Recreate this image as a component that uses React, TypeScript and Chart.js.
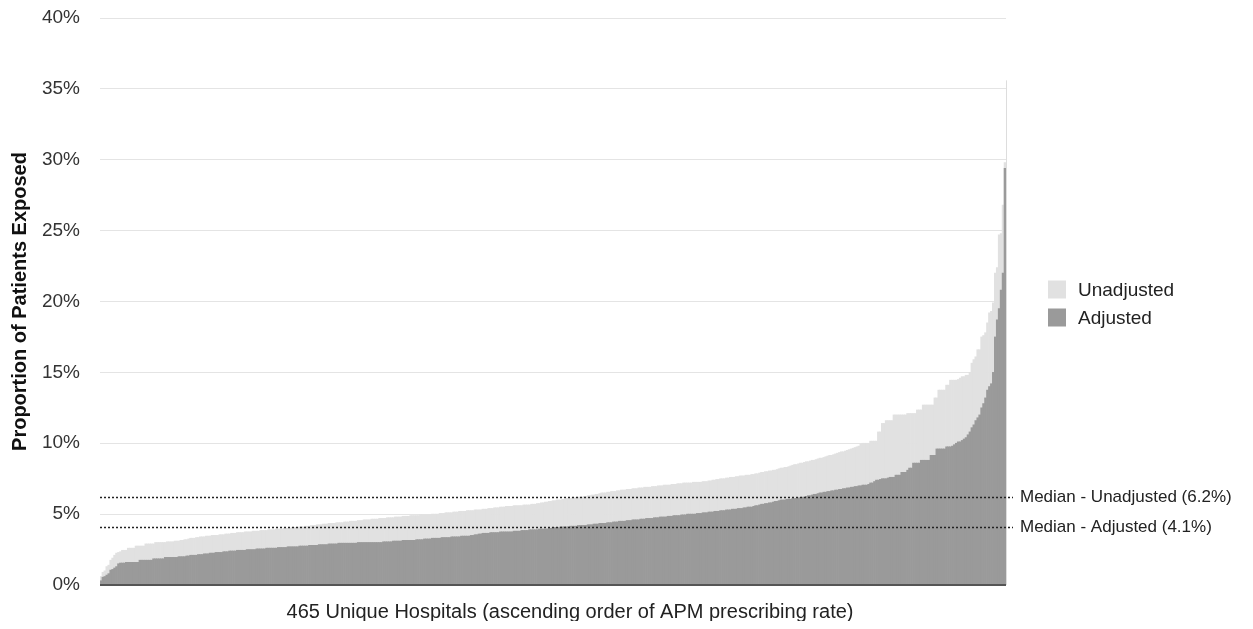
import React, { useEffect, useRef } from "react";
import { Chart, registerables } from "chart.js";

Chart.register(...registerables);

const FONT = "'Liberation Sans', Arial, Helvetica, sans-serif";

const HOSPITAL_COUNT = 465;
const hospitals: string[] = Array.from({ length: HOSPITAL_COUNT }, (_, i) => `Hospital ${i + 1}`);

// Proportion of patients exposed (%), unadjusted
const unadjusted: number[] = [
  0.6, 0.9, 1.0, 1.3, 1.4, 1.75, 1.9, 2.1, 2.25, 2.3,
  2.35, 2.45, 2.45, 2.45, 2.6, 2.6, 2.6, 2.6, 2.75, 2.75,
  2.75, 2.75, 2.75, 2.9, 2.9, 2.9, 2.9, 2.9, 3.0, 3.0,
  3.0, 3.0, 3.0, 3.0, 3.05, 3.05, 3.05, 3.05, 3.1, 3.1,
  3.1, 3.15, 3.15, 3.2, 3.2, 3.25, 3.3, 3.3, 3.3, 3.35,
  3.35, 3.4, 3.4, 3.4, 3.45, 3.45, 3.45, 3.5, 3.5, 3.5,
  3.5, 3.55, 3.55, 3.55, 3.6, 3.6, 3.6, 3.65, 3.65, 3.65,
  3.7, 3.7, 3.7, 3.7, 3.75, 3.75, 3.75, 3.75, 3.8, 3.8,
  3.8, 3.8, 3.85, 3.85, 3.85, 3.85, 3.9, 3.9, 3.9, 3.9,
  3.95, 3.95, 3.95, 3.95, 4.0, 4.0, 4.0, 4.0, 4.05, 4.05,
  4.05, 4.05, 4.1, 4.1, 4.1, 4.15, 4.15, 4.15, 4.2, 4.2,
  4.2, 4.25, 4.25, 4.25, 4.3, 4.3, 4.3, 4.35, 4.35, 4.35,
  4.35, 4.4, 4.4, 4.4, 4.4, 4.45, 4.45, 4.45, 4.5, 4.5,
  4.5, 4.5, 4.55, 4.55, 4.55, 4.6, 4.6, 4.6, 4.6, 4.65,
  4.65, 4.65, 4.65, 4.7, 4.7, 4.7, 4.7, 4.75, 4.75, 4.75,
  4.75, 4.8, 4.8, 4.8, 4.8, 4.85, 4.85, 4.85, 4.85, 4.9,
  4.9, 4.9, 4.9, 4.9, 4.95, 4.95, 4.95, 4.95, 4.95, 4.95,
  5.0, 5.0, 5.0, 5.0, 5.05, 5.05, 5.05, 5.1, 5.1, 5.1,
  5.1, 5.15, 5.15, 5.15, 5.2, 5.2, 5.2, 5.2, 5.25, 5.25,
  5.25, 5.25, 5.3, 5.3, 5.3, 5.3, 5.35, 5.35, 5.35, 5.4,
  5.4, 5.4, 5.45, 5.45, 5.45, 5.5, 5.5, 5.5, 5.55, 5.55,
  5.55, 5.55, 5.6, 5.6, 5.6, 5.6, 5.6, 5.65, 5.65, 5.65,
  5.65, 5.7, 5.7, 5.7, 5.75, 5.75, 5.8, 5.8, 5.85, 5.85,
  5.9, 5.9, 5.95, 5.95, 6.0, 6.0, 6.0, 6.05, 6.05, 6.1,
  6.1, 6.1, 6.15, 6.15, 6.15, 6.2, 6.2, 6.2, 6.25, 6.25,
  6.3, 6.3, 6.35, 6.35, 6.4, 6.4, 6.45, 6.5, 6.5, 6.5,
  6.55, 6.55, 6.6, 6.6, 6.6, 6.65, 6.65, 6.7, 6.7, 6.7,
  6.75, 6.75, 6.75, 6.8, 6.8, 6.8, 6.85, 6.85, 6.85, 6.9,
  6.9, 6.9, 6.9, 6.95, 6.95, 6.95, 7.0, 7.0, 7.0, 7.05,
  7.05, 7.05, 7.05, 7.1, 7.1, 7.1, 7.15, 7.15, 7.15, 7.2,
  7.2, 7.2, 7.2, 7.2, 7.25, 7.25, 7.25, 7.25, 7.25, 7.3,
  7.3, 7.3, 7.35, 7.35, 7.4, 7.4, 7.45, 7.45, 7.5, 7.5,
  7.5, 7.55, 7.55, 7.6, 7.6, 7.6, 7.65, 7.65, 7.7, 7.7,
  7.7, 7.75, 7.75, 7.75, 7.8, 7.8, 7.85, 7.85, 7.9, 7.95,
  7.95, 8.0, 8.0, 8.05, 8.05, 8.1, 8.1, 8.15, 8.2, 8.25,
  8.25, 8.3, 8.3, 8.35, 8.4, 8.45, 8.5, 8.5, 8.55, 8.6,
  8.6, 8.65, 8.7, 8.7, 8.75, 8.8, 8.8, 8.85, 8.9, 8.95,
  8.95, 9.0, 9.05, 9.1, 9.15, 9.15, 9.2, 9.25, 9.3, 9.35,
  9.4, 9.4, 9.45, 9.5, 9.55, 9.6, 9.65, 9.7, 9.75, 9.8,
  9.95, 10.0, 10.0, 10.0, 10.0, 10.15, 10.15, 10.15, 10.15, 10.8,
  10.8, 11.4, 11.4, 11.6, 11.6, 11.6, 11.6, 12.0, 12.0, 12.0,
  12.0, 12.0, 12.0, 12.0, 12.1, 12.1, 12.1, 12.1, 12.1, 12.35,
  12.35, 12.35, 12.7, 12.7, 12.7, 12.7, 12.7, 12.7, 13.2, 13.2,
  13.75, 13.75, 13.75, 13.75, 14.1, 14.1, 14.45, 14.45, 14.45, 14.45,
  14.5, 14.6, 14.7, 14.7, 14.8, 14.8, 15.0, 15.65, 15.9, 16.1,
  16.6, 16.6, 17.5, 17.6, 17.8, 18.5, 19.2, 19.3, 19.9, 22.0,
  22.4, 24.7, 24.8, 26.8, 29.8,
];

// Proportion of patients exposed (%), adjusted
const adjusted: number[] = [
  0.3, 0.55, 0.6, 0.7, 0.8, 1.05, 1.1, 1.2, 1.3, 1.5,
  1.55, 1.55, 1.55, 1.6, 1.6, 1.6, 1.6, 1.6, 1.6, 1.6,
  1.75, 1.75, 1.75, 1.75, 1.75, 1.75, 1.75, 1.85, 1.85, 1.85,
  1.85, 1.85, 1.85, 1.95, 1.95, 1.95, 1.95, 1.95, 1.95, 1.95,
  2.0, 2.0, 2.0, 2.0, 2.05, 2.05, 2.1, 2.1, 2.1, 2.1,
  2.15, 2.15, 2.15, 2.2, 2.2, 2.2, 2.25, 2.25, 2.25, 2.3,
  2.3, 2.3, 2.3, 2.35, 2.35, 2.35, 2.4, 2.4, 2.4, 2.4,
  2.45, 2.45, 2.45, 2.45, 2.45, 2.5, 2.5, 2.5, 2.5, 2.5,
  2.55, 2.55, 2.55, 2.55, 2.55, 2.6, 2.6, 2.6, 2.6, 2.6,
  2.6, 2.65, 2.65, 2.65, 2.65, 2.65, 2.7, 2.7, 2.7, 2.7,
  2.7, 2.7, 2.75, 2.75, 2.75, 2.75, 2.75, 2.8, 2.8, 2.8,
  2.8, 2.8, 2.85, 2.85, 2.85, 2.85, 2.85, 2.9, 2.9, 2.9,
  2.9, 2.9, 2.95, 2.95, 2.95, 2.95, 2.95, 2.95, 2.95, 2.95,
  2.95, 2.95, 3.0, 3.0, 3.0, 3.0, 3.0, 3.0, 3.0, 3.0,
  3.0, 3.0, 3.0, 3.0, 3.0, 3.05, 3.05, 3.05, 3.05, 3.05,
  3.1, 3.1, 3.1, 3.1, 3.1, 3.15, 3.15, 3.15, 3.15, 3.15,
  3.15, 3.15, 3.2, 3.2, 3.2, 3.2, 3.25, 3.25, 3.25, 3.25,
  3.3, 3.3, 3.3, 3.3, 3.3, 3.35, 3.35, 3.35, 3.35, 3.35,
  3.4, 3.4, 3.4, 3.4, 3.4, 3.45, 3.45, 3.45, 3.45, 3.45,
  3.5, 3.5, 3.55, 3.55, 3.6, 3.6, 3.65, 3.65, 3.65, 3.65,
  3.7, 3.7, 3.7, 3.7, 3.7, 3.75, 3.75, 3.75, 3.75, 3.75,
  3.75, 3.75, 3.8, 3.8, 3.8, 3.8, 3.85, 3.85, 3.85, 3.85,
  3.9, 3.9, 3.9, 3.9, 3.9, 3.95, 3.95, 3.95, 3.95, 3.95,
  4.0, 4.0, 4.05, 4.05, 4.05, 4.05, 4.1, 4.1, 4.1, 4.1,
  4.1, 4.15, 4.15, 4.15, 4.15, 4.2, 4.2, 4.2, 4.2, 4.2,
  4.25, 4.25, 4.25, 4.3, 4.3, 4.3, 4.35, 4.35, 4.35, 4.35,
  4.4, 4.4, 4.4, 4.45, 4.45, 4.45, 4.5, 4.5, 4.5, 4.5,
  4.55, 4.55, 4.55, 4.6, 4.6, 4.6, 4.6, 4.65, 4.65, 4.65,
  4.7, 4.7, 4.7, 4.7, 4.75, 4.75, 4.75, 4.8, 4.8, 4.8,
  4.8, 4.85, 4.85, 4.85, 4.9, 4.9, 4.9, 4.9, 4.95, 4.95,
  4.95, 5.0, 5.0, 5.0, 5.0, 5.0, 5.05, 5.05, 5.05, 5.1,
  5.1, 5.1, 5.15, 5.15, 5.15, 5.2, 5.2, 5.2, 5.25, 5.25,
  5.25, 5.3, 5.3, 5.3, 5.35, 5.35, 5.35, 5.4, 5.4, 5.4,
  5.45, 5.45, 5.5, 5.5, 5.5, 5.55, 5.6, 5.6, 5.65, 5.7,
  5.7, 5.75, 5.75, 5.8, 5.8, 5.85, 5.9, 5.9, 5.95, 6.0,
  6.0, 6.0, 6.05, 6.05, 6.05, 6.1, 6.1, 6.1, 6.15, 6.15,
  6.2, 6.2, 6.25, 6.3, 6.3, 6.35, 6.4, 6.4, 6.45, 6.5,
  6.5, 6.55, 6.55, 6.6, 6.6, 6.65, 6.65, 6.7, 6.7, 6.75,
  6.75, 6.8, 6.8, 6.85, 6.85, 6.9, 6.9, 6.95, 6.95, 7.0,
  7.0, 7.05, 7.05, 7.05, 7.1, 7.2, 7.2, 7.3, 7.4, 7.4,
  7.45, 7.5, 7.5, 7.5, 7.55, 7.6, 7.6, 7.6, 7.75, 7.75,
  7.75, 7.95, 7.95, 7.95, 8.1, 8.25, 8.25, 8.6, 8.6, 8.6,
  8.6, 8.8, 8.8, 8.8, 8.8, 8.8, 9.15, 9.15, 9.15, 9.6,
  9.6, 9.6, 9.6, 9.6, 9.75, 9.75, 9.75, 9.8, 9.9, 10.0,
  10.1, 10.1, 10.2, 10.3, 10.4, 10.6, 10.8, 11.1, 11.3, 11.6,
  11.8, 12.0, 12.5, 12.8, 13.2, 13.75, 14.0, 14.2, 15.0, 17.5,
  18.7, 19.5, 20.8, 22.0, 29.4,
];

const seriesNames = ["Unadjusted", "Adjusted"];
const seriesColors = ["#e1e1e1", "#9a9a9a"];
const yTickValues = [0, 5, 10, 15, 20, 25, 30, 35, 40];
const medianValues = [6.2, 4.1];
const medianLabels = ["Median - Unadjusted (6.2%)", "Median - Adjusted (4.1%)"];
const frameTopValue = 35.6;
const xTitle = "465 Unique Hospitals (ascending order of APM prescribing rate)";
const yTitle = "Proportion of Patients Exposed";

const overlayPlugin = {
  id: "overlay",
  afterDraw(chart: any) {
    const { ctx, chartArea, scales } = chart;
    const y = scales.y;
    const { left, right, top, bottom } = chartArea;
    ctx.save();

    // right frame line
    ctx.strokeStyle = "#dddddd";
    ctx.lineWidth = 1;
    ctx.beginPath();
    ctx.moveTo(Math.round(right) + 0.5, y.getPixelForValue(frameTopValue));
    ctx.lineTo(Math.round(right) + 0.5, y.getPixelForValue(0));
    ctx.stroke();

    // baseline
    ctx.strokeStyle = "#555555";
    ctx.lineWidth = 2;
    ctx.beginPath();
    ctx.moveTo(left, y.getPixelForValue(0));
    ctx.lineTo(right, y.getPixelForValue(0));
    ctx.stroke();

    // median lines + labels
    ctx.font = `17px ${FONT}`;
    ctx.textAlign = "left";
    ctx.textBaseline = "middle";
    medianValues.forEach((v, i) => {
      const py = Math.round(y.getPixelForValue(v)) + 0.5;
      ctx.strokeStyle = "#222222";
      ctx.lineWidth = 1.5;
      ctx.setLineDash([2, 2]);
      ctx.beginPath();
      ctx.moveTo(left, py);
      ctx.lineTo(right + 7, py);
      ctx.stroke();
      ctx.setLineDash([]);
      ctx.fillStyle = "#222222";
      ctx.fillText(medianLabels[i], right + 14, py);
    });

    // legend
    const cy = (top + bottom) / 2 + 2;
    ctx.font = `19px ${FONT}`;
    seriesNames.forEach((name, i) => {
      const iy = cy + (i === 0 ? -14 : 14);
      ctx.fillStyle = seriesColors[i];
      ctx.fillRect(right + 42, iy - 9, 18, 18);
      ctx.fillStyle = "#222222";
      ctx.fillText(name, right + 72, iy + 1);
    });

    // x axis title
    ctx.font = `20px ${FONT}`;
    ctx.textAlign = "center";
    ctx.fillStyle = "#222222";
    ctx.fillText(xTitle, (left + right) / 2 + 17, bottom + 27);

    ctx.restore();
  },
};

export default function App() {
  const canvasRef = useRef<HTMLCanvasElement | null>(null);

  useEffect(() => {
    if (!canvasRef.current) return;
    const chart = new Chart(canvasRef.current, {
      type: "bar",
      data: {
        labels: hospitals,
        datasets: [
          {
            label: seriesNames[1],
            data: adjusted,
            backgroundColor: seriesColors[1],
            borderWidth: 0,
            categoryPercentage: 1,
            barPercentage: 1,
            grouped: false,
          } as any,
          {
            label: seriesNames[0],
            data: unadjusted,
            backgroundColor: seriesColors[0],
            borderWidth: 0,
            categoryPercentage: 1,
            barPercentage: 1,
            grouped: false,
          } as any,
        ],
      },
      options: {
        animation: false,
        responsive: true,
        maintainAspectRatio: false,
        layout: { padding: { left: 0, right: 239, top: 0, bottom: 0 } },
        plugins: {
          legend: { display: false },
          tooltip: { enabled: false },
        },
        scales: {
          x: {
            grid: { display: false },
            ticks: { display: false },
            border: { display: false },
            afterFit: (s: any) => {
              s.height = 36;
            },
          },
          y: {
            min: 0,
            max: 40,
            z: 1,
            afterBuildTicks: (s: any) => {
              s.ticks = yTickValues.map((v) => ({ value: v }));
            },
            ticks: {
              callback: (v: any) => `${v}%`,
              padding: 20,
              color: "#333333",
              font: { family: FONT, size: 19, lineHeight: 1 },
            },
            grid: { color: "rgba(205,205,205,0.55)", drawTicks: false, lineWidth: 1 },
            border: { display: false },
            title: {
              display: true,
              text: yTitle,
              color: "#111111",
              padding: 0,
              font: { family: FONT, size: 20, weight: "bold" },
            },
            afterFit: (s: any) => {
              s.width = 92;
              s.paddingTop = 10;
              s.paddingBottom = 0;
            },
          },
        },
      },
      plugins: [overlayPlugin],
    });
    return () => chart.destroy();
  }, []);

  return (
    <div style={{ position: "relative", width: 1237, height: 613 }}>
      <canvas ref={canvasRef} />
    </div>
  );
}
